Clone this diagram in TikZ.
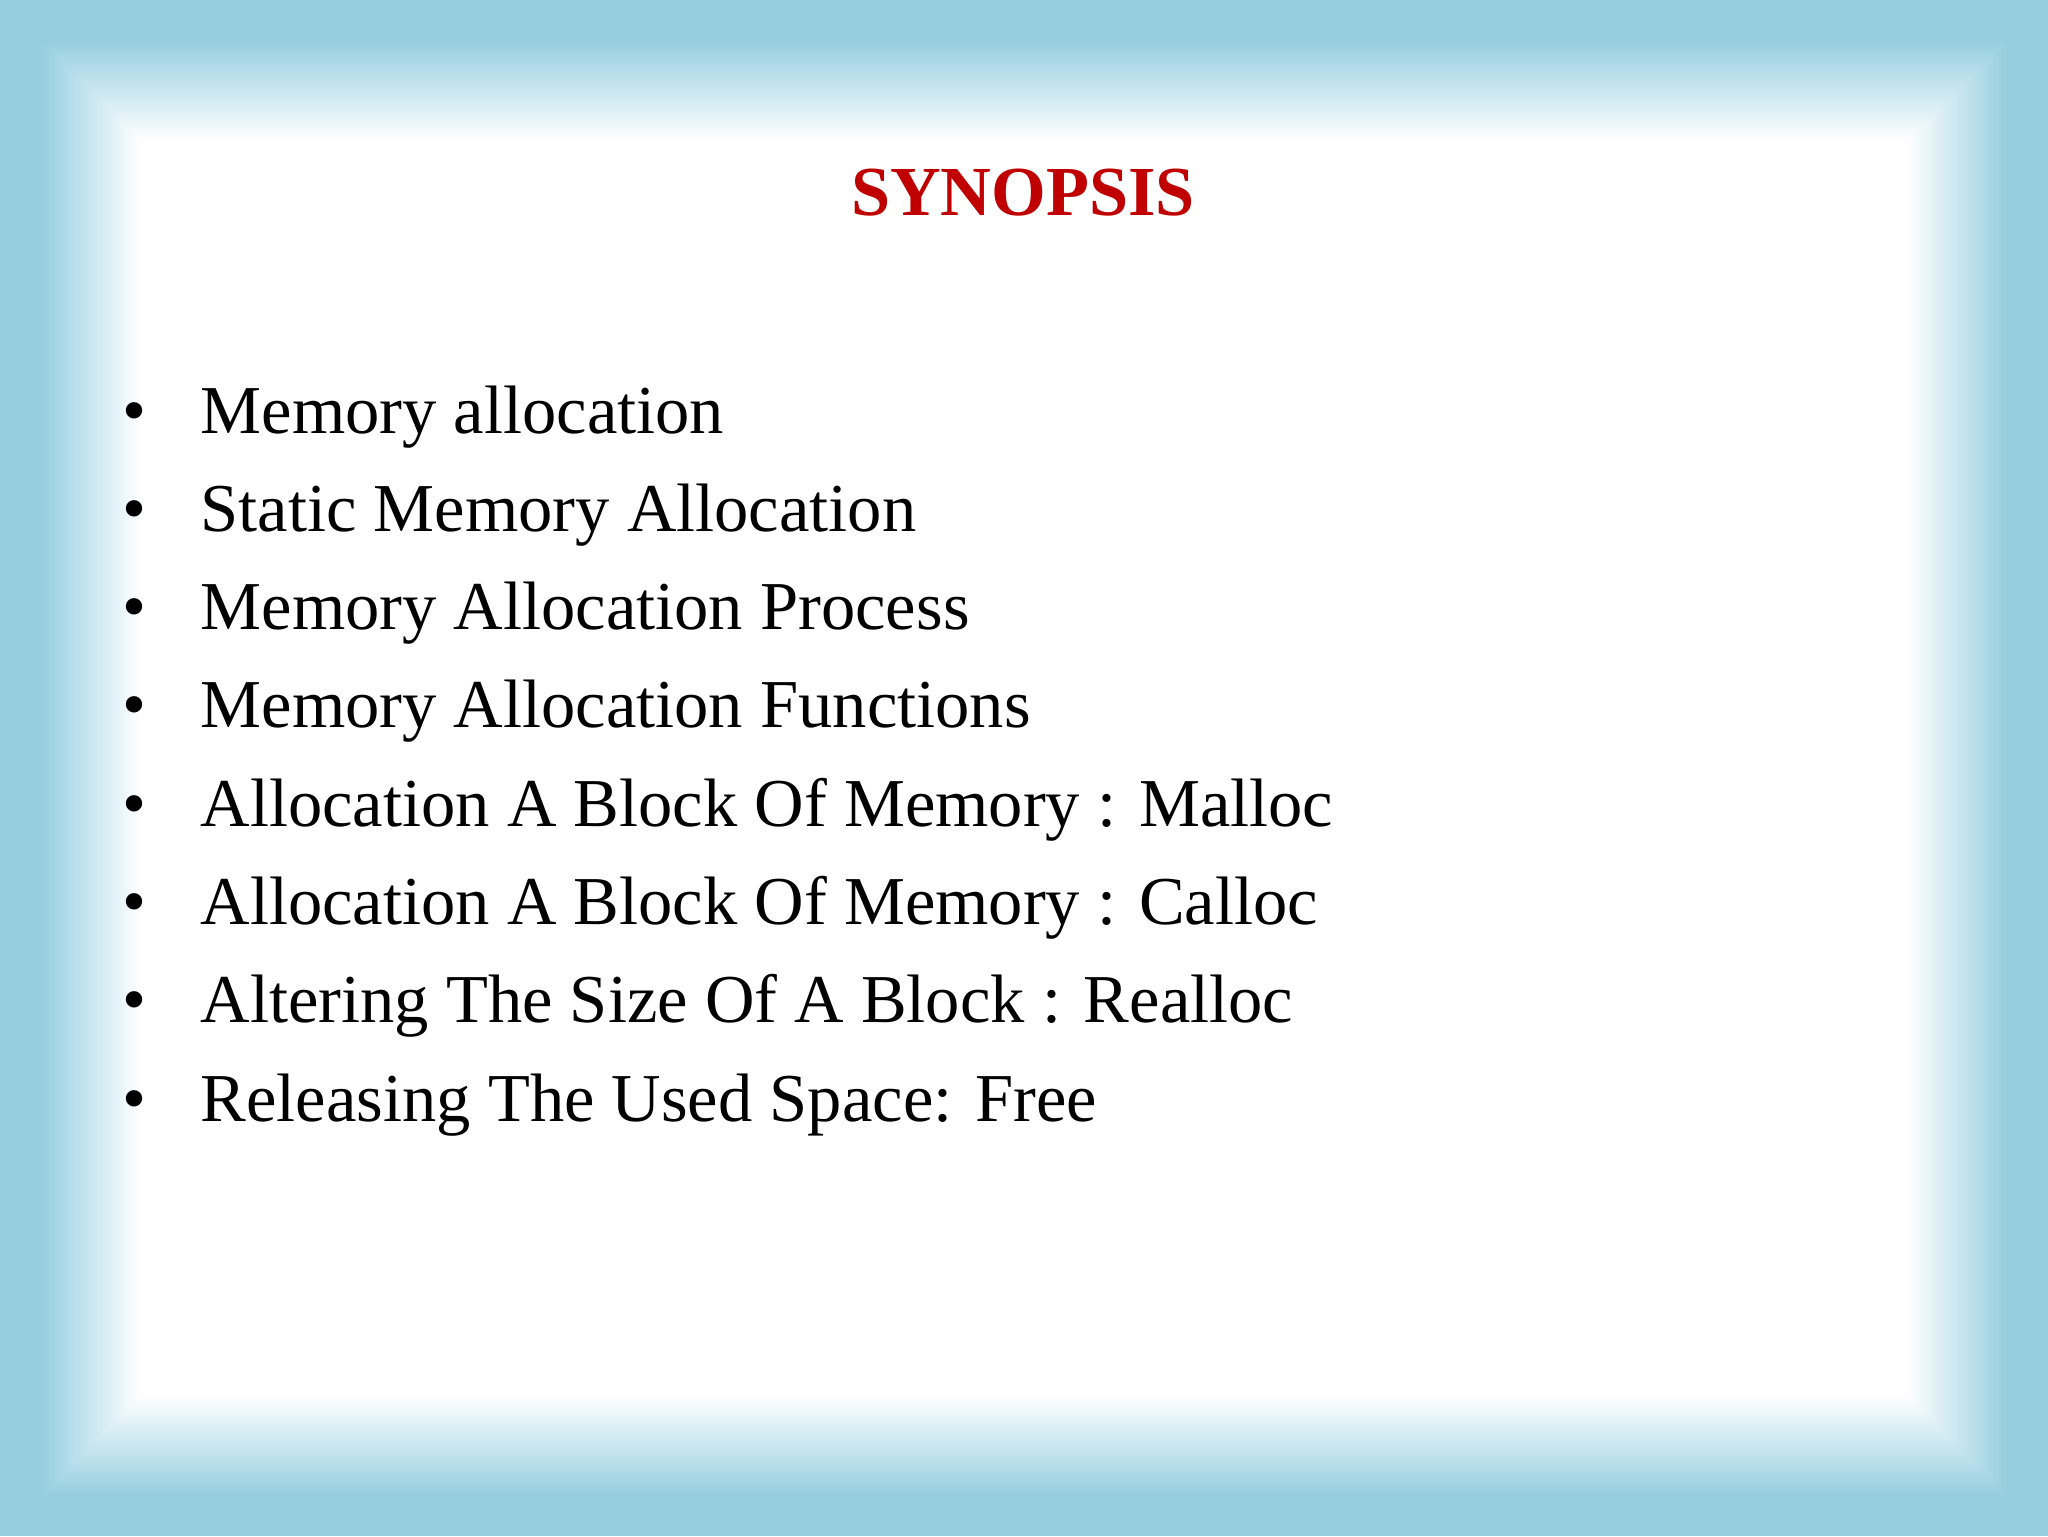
\documentclass[tikz,border=0pt]{standalone}
\usepackage{fontspec}
\setmainfont{Liberation Serif}
\definecolor{frameblue}{RGB}{150,206,224}
\definecolor{titlered}{RGB}{192,0,0}
\tikzset{item/.style={anchor=base west,font=\fontsize{19.5}{23}\selectfont,inner sep=0pt},
bul/.style={anchor=base,font=\fontsize{19.5}{23}\selectfont,inner sep=0pt}}
\begin{document}
\begin{tikzpicture}[x=1mm,y=-1mm]
\useasboundingbox (0,0) rectangle (204.8,153.6);
\fill[frameblue] (0,0) rectangle (204.8,153.6);
\foreach \i in {0,...,40}{
  \pgfmathsetmacro\d{4+\i*0.25}
  \pgfmathsetmacro\p{min(100,\i*2.5)}
  \fill[white!\p!frameblue] (\d,\d) rectangle (204.8-\d,153.6-\d);
}
\node[font=\bfseries\fontsize{20}{24}\selectfont,text=titlered] (title) at (102.3,19.3) {SYNOPSIS};
\foreach \t [count=\k] in {Memory allocation,Static Memory Allocation,Memory Allocation Process,Memory Allocation Functions,Allocation A Block Of Memory : Malloc,Allocation A Block Of Memory : Calloc,Altering The Size Of A Block : Realloc,Releasing The Used Space: Free}{
  \pgfmathsetmacro\yy{43.3+(\k-1)*9.83}
  \node[bul] (b\k) at (13.4,\yy) {•};
  \node[item] (t\k) at (20.0,\yy) {\t};
}
\end{tikzpicture}
\end{document}
